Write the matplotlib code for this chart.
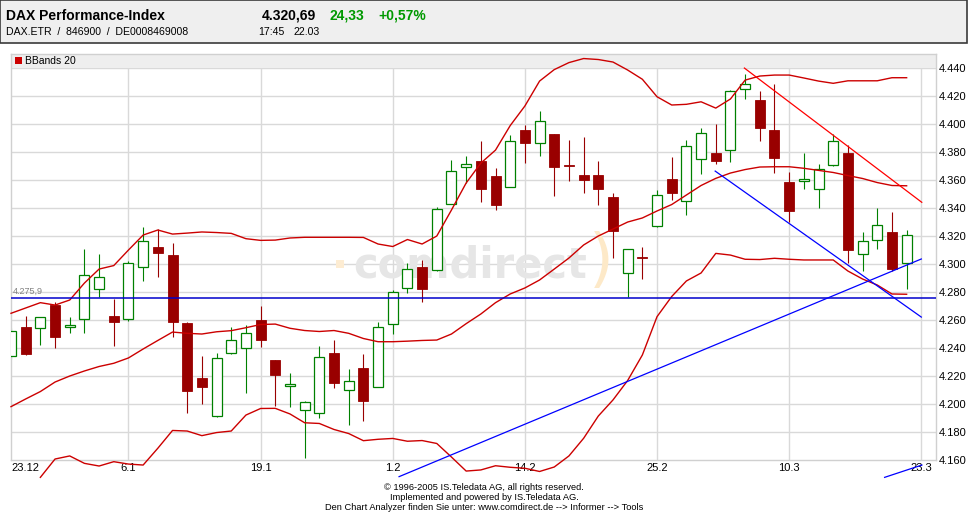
import numpy as np
import matplotlib
matplotlib.use("Agg")
import matplotlib.pyplot as plt
from matplotlib.patches import Rectangle

# trading days shown on the chart (23.3 has no candle yet)
days = ["23.12", "27.12", "28.12", "29.12", "30.12", "3.1", "4.1", "5.1", "6.1", "7.1",
        "10.1", "11.1", "12.1", "13.1", "14.1", "17.1", "18.1", "19.1", "20.1", "21.1",
        "24.1", "25.1", "26.1", "27.1", "28.1", "31.1", "1.2", "2.2", "3.2", "4.2",
        "7.2", "8.2", "9.2", "10.2", "11.2", "14.2", "15.2", "16.2", "17.2", "18.2",
        "21.2", "22.2", "23.2", "24.2", "25.2", "28.2", "1.3", "2.3", "3.3", "4.3",
        "7.3", "8.3", "9.3", "10.3", "11.3", "14.3", "15.3", "16.3", "17.3", "18.3",
        "21.3", "22.3", "23.3"]
tick_labels = ["23.12", "6.1", "19.1", "1.2", "14.2", "25.2", "10.3", "23.3"]

opens = [4234.3, 4255.0, 4254.0, 4270.7, 4254.8, 4261.0, 4282.0, 4263.0, 4260.5, 4298.0,
         4312.0, 4306.4, 4257.9, 4218.4, 4191.2, 4236.2, 4239.8, 4260.0, 4231.4, 4213.0,
         4195.5, 4193.6, 4236.4, 4209.8, 4225.7, 4212.0, 4257.0, 4282.6, 4297.9, 4295.5,
         4342.9, 4369.1, 4373.6, 4362.9, 4355.2, 4395.7, 4386.2, 4392.9, 4371.0, 4363.6,
         4363.6, 4347.9, 4293.8, 4305.0, 4327.1, 4360.7, 4345.2, 4374.8, 4379.1, 4381.4,
         4425.0, 4417.1, 4395.7, 4358.6, 4359.5, 4353.8, 4370.7, 4379.5, 4307.4, 4316.9,
         4322.9, 4300.9]
highs = [4254.0, 4262.9, 4262.0, 4272.6, 4262.0, 4310.5, 4307.0, 4275.0, 4302.0, 4326.4,
         4324.8, 4314.8, 4258.6, 4234.3, 4236.4, 4254.8, 4256.4, 4270.2, 4231.4, 4222.0,
         4202.0, 4241.4, 4245.7, 4224.8, 4235.7, 4258.6, 4281.2, 4300.5, 4302.9, 4340.5,
         4374.3, 4377.1, 4388.0, 4368.8, 4392.1, 4399.3, 4409.3, 4393.0, 4388.6, 4390.5,
         4373.6, 4350.9, 4310.5, 4311.9, 4352.9, 4376.6, 4388.6, 4396.9, 4400.0, 4424.3,
         4435.7, 4423.6, 4428.6, 4365.5, 4379.5, 4371.4, 4392.9, 4385.0, 4323.1, 4339.8,
         4336.9, 4324.3]
lows = [4232.0, 4235.0, 4242.0, 4240.0, 4251.0, 4251.0, 4276.6, 4241.6, 4259.0, 4288.0,
        4291.0, 4247.6, 4193.4, 4200.0, 4191.0, 4236.0, 4207.6, 4241.0, 4198.6, 4198.0,
        4161.2, 4189.8, 4211.6, 4185.0, 4188.0, 4212.0, 4249.8, 4279.5, 4273.1, 4295.0,
        4342.9, 4357.6, 4344.5, 4338.6, 4355.0, 4371.9, 4377.1, 4348.8, 4359.5, 4350.9,
        4342.1, 4304.5, 4276.4, 4289.1, 4326.6, 4345.7, 4335.0, 4364.1, 4371.4, 4373.1,
        4417.6, 4388.1, 4365.2, 4330.2, 4353.4, 4340.2, 4370.0, 4300.5, 4295.2, 4310.5,
        4295.2, 4281.9]
closes = [4252.0, 4235.7, 4262.0, 4248.0, 4256.4, 4292.0, 4290.5, 4258.8, 4301.0, 4316.4,
          4308.0, 4258.8, 4209.5, 4212.4, 4232.6, 4245.5, 4250.5, 4246.0, 4220.7, 4214.3,
          4201.6, 4233.8, 4214.8, 4216.4, 4202.4, 4254.8, 4279.8, 4296.2, 4282.4, 4339.1,
          4366.2, 4371.4, 4353.6, 4342.1, 4387.9, 4386.6, 4402.1, 4369.5, 4370.0, 4360.0,
          4353.6, 4323.6, 4310.5, 4304.5, 4349.3, 4350.9, 4384.1, 4393.4, 4373.8, 4423.4,
          4428.6, 4397.4, 4375.9, 4337.9, 4360.5, 4367.6, 4388.1, 4309.8, 4316.2, 4327.6,
          4296.6, 4320.7]

# Bollinger bands (20)
bb_upper = [4264.8, 4268.6, 4272.4, 4270.7, 4274.3, 4286.4, 4296.4, 4298.9, 4310.0, 4320.7,
            4324.3, 4321.4, 4322.1, 4322.9, 4322.5, 4321.9, 4318.1, 4316.9, 4317.1, 4318.6,
            4319.1, 4319.1, 4319.1, 4319.1, 4319.0, 4314.3, 4312.5, 4317.5, 4314.3, 4320.0,
            4338.6, 4357.9, 4372.1, 4381.4, 4398.9, 4412.9, 4430.7, 4438.9, 4443.9, 4446.8,
            4446.1, 4444.3, 4438.6, 4432.0, 4419.5, 4413.6, 4414.1, 4415.9, 4411.4, 4417.9,
            4431.4, 4434.3, 4435.0, 4435.0, 4432.9, 4430.7, 4429.1, 4430.9, 4430.9, 4430.9,
            4433.1, 4433.1]
bb_middle = [4198.1, 4203.6, 4208.9, 4215.7, 4220.0, 4223.6, 4226.8, 4229.1, 4232.9, 4239.3,
             4245.4, 4251.4, 4250.5, 4250.0, 4251.6, 4252.4, 4254.5, 4256.8, 4257.1, 4254.1,
             4252.5, 4251.8, 4252.5, 4250.5, 4246.8, 4244.5, 4244.5, 4244.9, 4245.4, 4245.7,
             4250.0, 4257.4, 4264.3, 4272.4, 4278.6, 4282.9, 4288.6, 4296.4, 4304.3, 4313.6,
             4320.0, 4325.0, 4330.0, 4332.9, 4337.9, 4342.5, 4349.3, 4356.1, 4361.2, 4365.0,
             4367.5, 4369.3, 4369.5, 4369.5, 4368.4, 4366.9, 4365.4, 4363.2, 4361.1, 4358.2,
             4356.1, 4355.9]
bb_lower = [np.nan, np.nan, 4147.6, 4160.7, 4162.9, 4157.6, 4155.7, 4158.8, 4157.1, 4156.4,
            4168.4, 4181.1, 4180.7, 4177.4, 4179.6, 4180.7, 4192.1, 4196.8, 4196.9, 4192.9,
            4186.6, 4186.1, 4181.8, 4178.9, 4173.8, 4174.8, 4175.4, 4173.4, 4173.9, 4171.8,
            4162.1, 4152.1, 4152.9, 4155.9, 4154.8, 4154.1, 4151.8, 4155.0, 4162.9, 4175.5,
            4191.4, 4202.9, 4216.8, 4235.0, 4262.4, 4276.8, 4287.9, 4293.6, 4307.6, 4306.4,
            4303.4, 4303.2, 4304.1, 4303.4, 4302.9, 4302.9, 4302.9, 4295.0, 4289.3, 4285.0,
            4278.6, 4278.4]

# drawn trend lines: (day index, price) pairs
red_trend = [(49.95, 4440.0), (62.03, 4344.1)]
blue_up = [(26.43, 4148.1), (62.0, 4303.6)]
blue_down = [(47.96, 4366.4), (62.0, 4262.1)]
blue_small = [(59.5, 4147.6), (62.04, 4156.4)]
mark_level = 4275.9

W, H = 968, 512
UP = "#008000"
DOWN = "#990000"
BAND = "#cc0000"
FONT = "Liberation Sans"


def fx(x):
    return x / W


def fy(y):
    return 1 - y / H


def draw_header(fig):
    fig.patches.append(Rectangle((0, fy(43)), fx(967), 43 / H, transform=fig.transFigure,
                                 facecolor="#efefef", edgecolor="#3a3a3a", lw=1.2))
    fig.text(fx(6), fy(19.5), "DAX Performance-Index", fontsize=10, weight="bold", family=FONT)
    fig.text(fx(262), fy(19.5), "4.320,69", fontsize=10, weight="bold", family=FONT)
    fig.text(fx(330), fy(19.5), "24,33", fontsize=10, weight="bold", family=FONT, color="#009900")
    fig.text(fx(378), fy(19.5), "+0,57%", fontsize=10, weight="bold", family=FONT, color="#009900")
    fig.text(fx(6), fy(35), "DAX.ETR  /  846900  /  DE0008469008", fontsize=7.6, family=FONT)
    fig.text(fx(258), fy(35), "17:45", fontsize=7.6, family=FONT)
    fig.text(fx(294), fy(35), "22.03", fontsize=7.6, family=FONT)

    fig.text(fx(484), fy(489.5), "\u00a9 1996-2005 IS.Teledata AG, all rights reserved.",
             fontsize=6.7, family=FONT, ha="center")
    fig.text(fx(484), fy(499.5), "Implemented and powered by IS.Teledata AG.",
             fontsize=6.7, family=FONT, ha="center")
    fig.text(fx(484), fy(509.5),
             "Den Chart Analyzer finden Sie unter: www.comdirect.de --> Informer --> Tools",
             fontsize=6.7, family=FONT, ha="center")


def draw_candles(ax):
    x = np.arange(len(opens))
    o = np.array(opens)
    c = np.array(closes)
    up = c >= o
    for i in x:
        col = UP if up[i] else DOWN
        ax.vlines(i, lows[i], highs[i], color=col, lw=0.8, zorder=2)
    bottom = np.minimum(o, c)
    height = np.maximum(np.abs(c - o), 0.6)
    ax.bar(x[up], height[up], bottom=bottom[up], width=0.68, facecolor="white",
           edgecolor=UP, lw=0.9, zorder=3)
    ax.bar(x[~up], height[~up], bottom=bottom[~up], width=0.68, facecolor=DOWN,
           edgecolor=DOWN, lw=0.6, zorder=3)


def main():
    fig = plt.figure(figsize=(W / 100, H / 100), dpi=100)
    draw_header(fig)

    ax = fig.add_axes([fx(11), fy(460), fx(936 - 11), (460 - 53.5) / H])
    ax.set_xlim(0, 63.0)
    ax.set_ylim(4160, 4450.4)

    # grid
    for v in range(4180, 4441, 20):
        ax.axhline(v, color="#d9d9d9", lw=1, zorder=0.5)
    ticks = [days.index(t) for t in tick_labels]
    for t in ticks[1:]:
        ax.vlines(t, 4160, 4440, color="#d9d9d9", lw=1, zorder=0.5)

    # legend strip on top of the plot area
    ax.axhspan(4440, 4450.4, facecolor="#eeeeee", edgecolor="none", zorder=1)
    fig.patches.append(Rectangle((fx(15), fy(64)), fx(7), 7 / H, transform=fig.transFigure,
                                 facecolor="#cc0000", edgecolor="none"))
    fig.text(fx(25), fy(61), "BBands 20", fontsize=7.5, family=FONT, va="center")

    # watermark
    ax.text(fx(470), fy(278), "comdirect", transform=fig.transFigure, fontsize=30,
            weight="bold", color="#e6e6e6", ha="center", va="baseline", zorder=0.6)
    ax.add_patch(Rectangle((fx(336), fy(268)), fx(8), 8 / H, transform=fig.transFigure,
                           facecolor="#fdecd2", edgecolor="none", zorder=0.6))
    ax.text(fx(601), fy(262), ")", transform=fig.transFigure, fontsize=46,
            color="#fde9c8", ha="center", va="center", zorder=0.6)

    draw_candles(ax)

    x = np.arange(len(bb_upper))
    for band in (bb_upper, bb_middle, bb_lower):
        ax.plot(x, band, color=BAND, lw=1.0, zorder=4, clip_on=False)

    ax.axhline(mark_level, color="#0000cc", lw=1.1, zorder=4)
    ax.text(0.1, mark_level + 1.5, "4.275,9", fontsize=6.5, family=FONT, color="#808080",
            va="bottom", zorder=4)

    for pts, col in ((red_trend, "#ff0000"), (blue_up, "#0000ff"),
                     (blue_down, "#0000ff"), (blue_small, "#0000ff")):
        xs, ys = zip(*pts)
        ax.plot(xs, ys, color=col, lw=0.9, zorder=5, clip_on=False)

    # axes
    for s in ax.spines.values():
        s.set_color("#d0d0d0")
        s.set_linewidth(1)
    ax.yaxis.tick_right()
    ax.set_yticks(range(4160, 4441, 20))
    ax.set_yticklabels(["{:,}".format(v).replace(",", ".") for v in range(4160, 4441, 20)],
                       fontsize=8, family=FONT)
    ax.set_xticks(ticks)
    ax.set_xticklabels(tick_labels, fontsize=8, family=FONT)
    ax.get_xticklabels()[0].set_ha("left")
    ax.tick_params(length=0, pad=2)

    fig.savefig("out.png", dpi=100)


if __name__ == "__main__":
    main()
